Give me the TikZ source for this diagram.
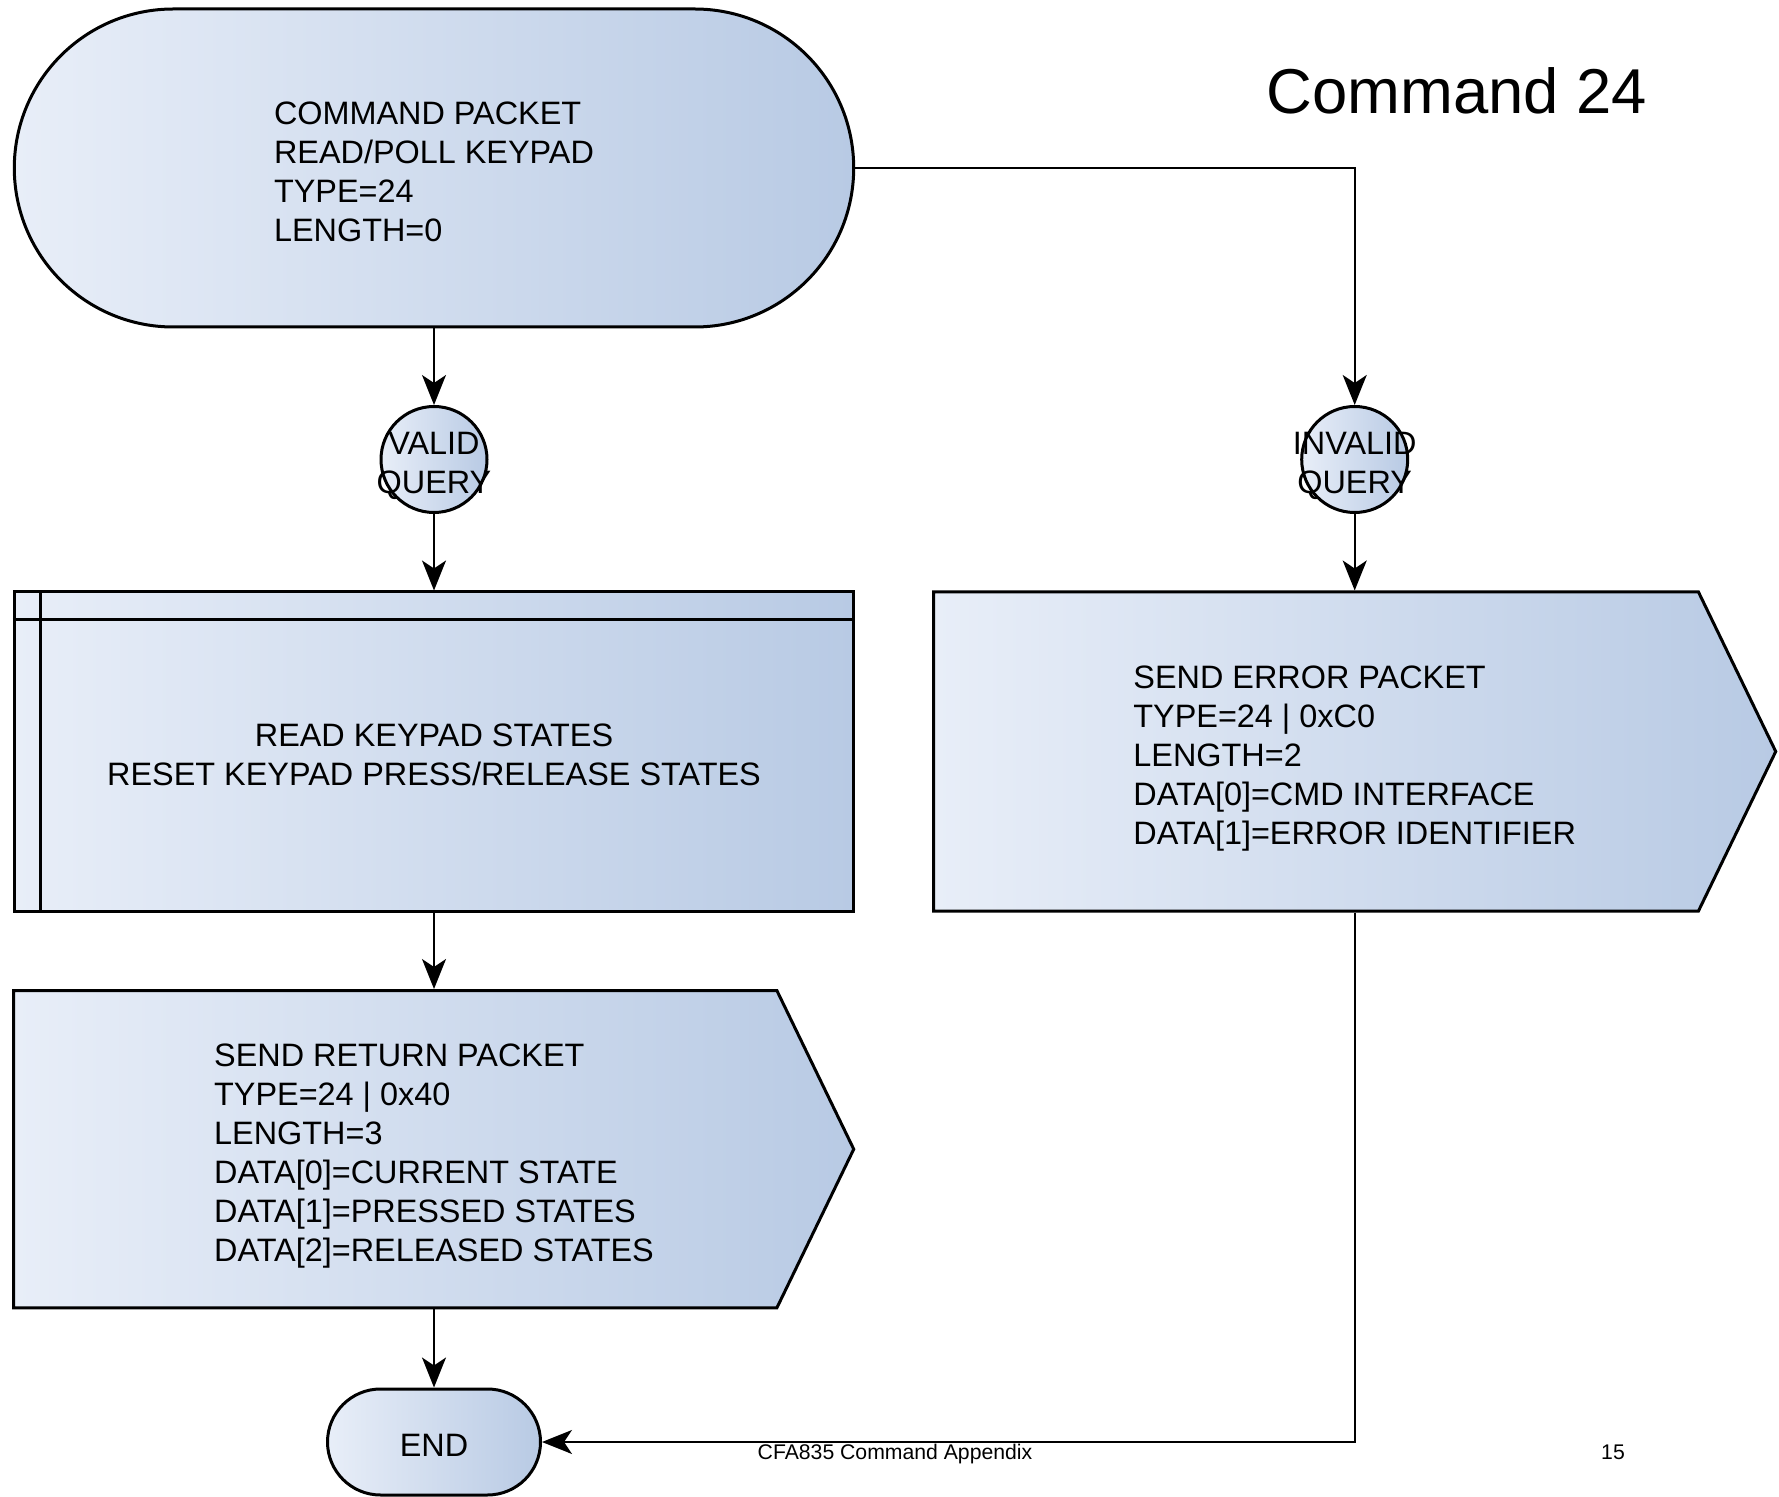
\documentclass[tikz,border=0pt]{standalone}
\usepackage{fontspec}
\setmainfont{Liberation Sans}
\usepackage{tikz}
\definecolor{keylight}{RGB}{232, 238, 248}
\definecolor{keydark}{RGB}{184, 202, 228}
\usetikzlibrary{shapes.misc,shapes.symbols,arrows.meta}
% lines of a box, a little lowered in the shape
\newcommand{\keyrows}[2]{\begin{tabular}{@{}#1@{}}\rule{0pt}{20.4pt}#2\end{tabular}}

\begin{document}
\begin{tikzpicture}[x=0.5pt, y=-0.5pt,
    box/.style={draw=black, line width=1.5pt, left color=keylight, right color=keydark, inner sep=0pt, font=\fontsize{16.2}{19.5}\selectfont},
    term/.style={box, rounded rectangle},
    query/.style={box, circle, minimum size=53pt},
    packet/.style={box, signal, signal to=east, signal pointer angle=128.3},
    flow/.style={-{Stealth[length=15pt, width=12pt, inset=4pt]}, line width=1pt}]
    \useasboundingbox (0,0) rectangle (1779,1497);
    \fill[white] (0,0) rectangle (1779,1497);
    % left column
    \node[term, minimum width=419.7pt, minimum height=159pt] (cmd) at (434,168) {\keyrows{l}{COMMAND PACKET\\READ/POLL KEYPAD\\TYPE=24\\LENGTH=0}};
    \node[query] (valid) at (434,459.5) {\makebox[0pt]{\keyrows{c}{VALID\\QUERY}}};
    \node[box, rectangle, minimum width=419.7pt, minimum height=159.5pt] (read) at (434,751.5) {\keyrows{c}{READ KEYPAD STATES\\RESET KEYPAD PRESS/RELEASE STATES}};
    \draw[line width=1.5pt] ([xshift=13.6pt]read.north west) -- ([xshift=13.6pt]read.south west);
    \draw[line width=1.5pt] ([yshift=-14.3pt]read.north west) -- ([yshift=-14.3pt]read.north east);
    \node[packet, minimum width=420pt, minimum height=158.7pt] (ret) at (395.3,1149.2) {\hspace*{38.7pt}\keyrows{l}{SEND RETURN PACKET\\TYPE=24 | 0x40\\LENGTH=3\\DATA[0]=CURRENT STATE\\DATA[1]=PRESSED STATES\\DATA[2]=RELEASED STATES}};
    \node[term, minimum width=106.5pt, minimum height=53pt] (endn) at (434,1442) {\keyrows{c}{END}};
    % right column
    \node[query] (invalid) at (1354.7,459.5) {\makebox[0pt]{\keyrows{c}{INVALID\\QUERY}}};
    \node[packet, minimum width=421pt, minimum height=159.5pt] (err) at (1316.1,751.5) {\hspace*{38.6pt}\keyrows{l}{SEND ERROR PACKET\\TYPE=24 | 0xC0\\LENGTH=2\\DATA[0]=CMD INTERFACE\\DATA[1]=ERROR IDENTIFIER}};
    % page texts
    \node[font=\fontsize{31.7}{38}\selectfont, anchor=base] (title) at (1457,114) {Command 24};
    \node[font=\fontsize{10.6}{13}\selectfont, anchor=base] (footer) at (895,1459) {CFA835 Command Appendix};
    \node[font=\fontsize{10.6}{13}\selectfont, anchor=base] (page) at (1613,1459) {15};
    % connectors
    \draw[flow] (cmd.south) -- (valid.north);
    \draw[flow] (valid.south) -- (read.north);
    \draw[flow] (read.south) -- (read.south |- ret.north);
    \draw[flow] (ret.south -| endn.north) -- (endn.north);
    \draw[flow] (cmd.east) -| (invalid.north);
    \draw[flow] (invalid.south) -- (invalid.south |- err.north);
    \draw[flow] (err.south -| invalid.south) |- (endn.east);
\end{tikzpicture}
\end{document}
